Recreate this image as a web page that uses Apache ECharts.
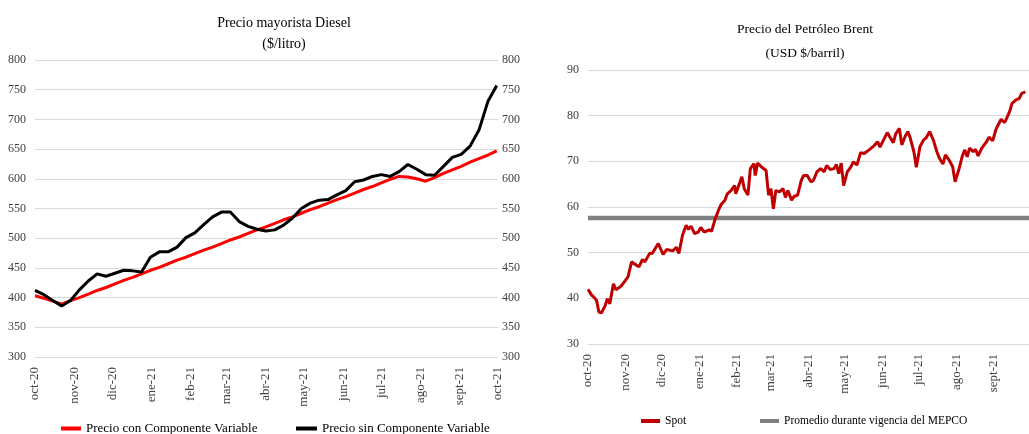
<!DOCTYPE html>
<html>
<head>
<meta charset="utf-8">
<script src="https://cdn.jsdelivr.net/npm/echarts@6/dist/echarts.min.js"></script>
<style>
  html, body { margin: 0; padding: 0; background: #fff; }
  #chart { width: 1029px; height: 434px; }
</style>
</head>
<body>
<div id="chart"></div>
<script>
// meses en español para las etiquetas del eje x
const meses = ['ene', 'feb', 'mar', 'abr', 'may', 'jun', 'jul', 'ago', 'sept', 'oct', 'nov', 'dic']

// fechas semanales (jueves) del precio mayorista, desde 2020-10-01
const inicioDiesel = '2020-10-01'
const semanasDiesel = 53

// Precio mayorista Diesel ($/litro)
const precioCon = [403, 399, 394, 389, 395, 400, 406, 412, 417, 423, 429, 434, 440, 446, 451, 457, 463, 468, 474, 480,
  485, 491, 497, 502, 508, 514, 519, 525, 531, 536, 542, 548, 553, 559, 565, 570, 576, 582, 587, 593,
  599, 604, 603, 600, 596, 602, 609, 615, 621, 628, 634, 640, 647]
const precioSin = [412, 405, 395, 386, 395, 413, 428, 440, 436, 441, 446, 445, 443, 468, 477, 477, 485, 501, 509, 523,
  536, 544, 544, 528, 520, 515, 512, 514, 522, 534, 550, 559, 564, 565, 573, 580, 595, 598, 604, 607,
  604, 612, 624, 616, 607, 606, 621, 636, 641, 655, 682, 730, 757]

// Brent spot (USD $/barril)
const brentFechas = ['2020-10-01', '2020-10-02', '2020-10-04', '2020-10-06', '2020-10-08', '2020-10-10', '2020-10-12',
  '2020-10-15', '2020-10-17', '2020-10-19', '2020-10-22', '2020-10-24', '2020-10-28', '2020-10-31', '2020-11-03',
  '2020-11-06', '2020-11-08', '2020-11-12', '2020-11-15', '2020-11-17', '2020-11-21', '2020-11-23', '2020-11-28',
  '2020-12-02', '2020-12-05', '2020-12-10', '2020-12-13', '2020-12-15', '2020-12-18', '2020-12-21', '2020-12-23',
  '2020-12-25', '2020-12-28', '2020-12-31', '2021-01-02', '2021-01-05', '2021-01-09', '2021-01-11', '2021-01-14',
  '2021-01-17', '2021-01-19', '2021-01-22', '2021-01-24', '2021-01-27', '2021-01-30', '2021-01-31', '2021-02-02',
  '2021-02-05', '2021-02-07', '2021-02-10', '2021-02-12', '2021-02-15', '2021-02-16', '2021-02-18', '2021-02-21',
  '2021-02-25', '2021-02-27', '2021-03-01', '2021-03-03', '2021-03-05', '2021-03-08', '2021-03-11', '2021-03-13',
  '2021-03-15', '2021-03-18', '2021-03-20', '2021-03-23', '2021-03-26', '2021-03-28', '2021-03-31', '2021-04-03',
  '2021-04-05', '2021-04-08', '2021-04-11', '2021-04-14', '2021-04-16', '2021-04-19', '2021-04-22', '2021-04-24',
  '2021-04-26', '2021-04-28', '2021-04-30', '2021-05-03', '2021-05-06', '2021-05-08', '2021-05-11', '2021-05-14',
  '2021-05-17', '2021-05-21', '2021-05-25', '2021-05-28', '2021-05-30', '2021-06-02', '2021-06-05', '2021-06-07',
  '2021-06-10', '2021-06-12', '2021-06-15', '2021-06-17', '2021-06-20', '2021-06-22', '2021-06-24', '2021-06-27',
  '2021-06-29', '2021-07-02', '2021-07-05', '2021-07-07', '2021-07-10', '2021-07-13', '2021-07-16', '2021-07-18',
  '2021-07-21', '2021-07-23', '2021-07-26', '2021-07-29', '2021-07-31', '2021-08-03', '2021-08-06', '2021-08-08',
  '2021-08-10', '2021-08-12', '2021-08-15', '2021-08-17', '2021-08-19', '2021-08-22', '2021-08-26', '2021-08-28',
  '2021-08-31', '2021-09-03', '2021-09-07', '2021-09-10', '2021-09-14', '2021-09-16', '2021-09-19', '2021-09-22',
  '2021-09-24', '2021-09-27']
const brentSpot = [42.0, 41.9, 40.7, 40.2, 39.6, 37.0, 36.8,
  38.3, 39.9, 38.8, 43.2, 41.9, 42.6, 43.6, 44.7,
  48.0, 47.6, 46.9, 48.5, 48.0, 49.9, 49.8, 52.0,
  49.6, 50.7, 50.4, 51.2, 49.8, 53.8, 56.0, 55.1,
  55.8, 54.2, 54.5, 55.5, 54.5, 55.0, 54.7, 57.4,
  59.5, 60.6, 61.5, 62.9, 63.6, 64.7, 62.9, 64.4,
  66.6, 64.0, 62.6, 68.4, 69.5, 66.9, 69.6, 68.8,
  68.0, 62.6, 64.0, 59.6, 63.6, 63.3, 64.0, 62.1,
  63.6, 61.5, 62.3, 62.6, 65.8, 66.9, 66.9, 65.5,
  65.8, 67.7, 68.4, 67.7, 69.1, 68.2, 68.4, 69.3,
  67.3, 69.6, 64.7, 67.7, 68.8, 69.9, 69.2, 71.9,
  71.7, 72.5, 73.4, 74.3, 73.1, 74.7, 76.3, 75.4,
  74.1, 76.0, 77.2, 73.6, 75.6, 76.5, 75.1, 72.1,
  68.7, 73.2, 74.7, 75.1, 76.5, 74.7, 72.1, 70.7,
  69.4, 71.4, 70.3, 68.8, 65.5, 68.1, 71.2, 72.5,
  71.0, 72.9, 72.1, 72.6, 71.2, 72.9, 74.3, 75.3,
  74.5, 77.2, 79.2, 78.5, 80.9, 82.7, 83.4, 83.8,
  84.9, 85.2]
const promedioMepco = 57.6

const fuente = "'Liberation Serif', 'Times New Roman', serif"

function dias(desde, n) {
  const t0 = Date.parse(desde + 'T00:00:00Z')
  const out = []
  for (let i = 0; i < n; i++) out.push(new Date(t0 + i * 86400000).toISOString().slice(0, 10))
  return out
}

const diasDiesel = dias('2020-10-01', 366) // hasta oct-21
const diasBrent = dias('2020-10-01', 365) // hasta fin de sept-21
const dieselFechas = []
for (let i = 0; i < semanasDiesel; i++) dieselFechas.push(dias(inicioDiesel, 7 * i + 1)[7 * i])

const idxDiesel = new Map(diasDiesel.map((d, i) => [d, i]))
const idxBrent = new Map(diasBrent.map((d, i) => [d, i]))

function etiquetaMes(v) {
  return meses[parseInt(v.slice(5, 7), 10) - 1] + '-' + v.slice(2, 4)
}

function ejeX(gridIndex, data) {
  return {
    type: 'category',
    gridIndex: gridIndex,
    data: data,
    boundaryGap: false,
    axisLine: { show: false },
    axisTick: { show: false },
    axisLabel: {
      interval: (i, v) => v.slice(8) === '01',
      formatter: etiquetaMes,
      rotate: 90,
      margin: 10,
      color: '#404040',
      fontFamily: fuente,
      fontSize: 13
    },
    splitLine: { show: false }
  }
}

function ejeY(gridIndex, pos, min, max, step, grid) {
  return {
    type: 'value',
    gridIndex: gridIndex,
    position: pos,
    min: min,
    max: max,
    interval: step,
    axisLine: { show: false },
    axisTick: { show: false },
    axisLabel: { color: '#404040', fontFamily: fuente, fontSize: 12, margin: pos === 'right' ? 4 : 9 },
    splitLine: { show: grid, lineStyle: { color: '#d9d9d9', width: 1 } }
  }
}

function leyenda(nombre, left, top, w, size) {
  return {
    data: [nombre],
    left: left,
    top: top,
    icon: 'rect',
    itemWidth: w,
    itemHeight: 4,
    padding: 0,
    selectedMode: false,
    textStyle: { fontFamily: fuente, fontSize: size, color: '#000' }
  }
}

const chart = echarts.init(document.getElementById('chart'))

chart.setOption({
  animation: false,
  backgroundColor: '#fff',
  title: [
    {
      text: 'Precio mayorista Diesel\n($/litro)',
      left: 279,
      top: 8,
      textAlign: 'center',
      textStyle: { fontFamily: fuente, fontSize: 14, fontWeight: 'normal', color: '#000', lineHeight: 21 }
    },
    {
      text: 'Precio del Petróleo Brent\n(USD $/barril)',
      left: 800,
      top: 12,
      textAlign: 'center',
      textStyle: { fontFamily: fuente, fontSize: 13.5, fontWeight: 'normal', color: '#000', lineHeight: 24 }
    }
  ],
  legend: [
    leyenda('Precio con Componente Variable', 61, 422, 20, 13),
    leyenda('Precio sin Componente Variable', 296, 422, 21, 13),
    leyenda('Spot', 641, 415, 19, 11.5),
    leyenda('Promedio durante vigencia del MEPCO', 760, 415, 19, 11.5)
  ],
  grid: [
    { left: 35, top: 60, width: 463, height: 297 },
    { left: 588, top: 70, width: 446, height: 274 }
  ],
  xAxis: [ejeX(0, diasDiesel), ejeX(1, diasBrent)],
  yAxis: [
    ejeY(0, 'left', 300, 800, 50, true),
    ejeY(0, 'right', 300, 800, 50, false),
    ejeY(1, 'left', 30, 90, 10, true)
  ],
  series: [
    {
      name: 'Precio con Componente Variable',
      type: 'line',
      xAxisIndex: 0,
      yAxisIndex: 0,
      showSymbol: false,
      lineStyle: { color: '#ff0000', width: 3 },
      itemStyle: { color: '#ff0000' },
      data: dieselFechas.map((f, i) => [idxDiesel.get(f), precioCon[i]])
    },
    {
      name: 'Precio sin Componente Variable',
      type: 'line',
      xAxisIndex: 0,
      yAxisIndex: 0,
      showSymbol: false,
      lineStyle: { color: '#000000', width: 3 },
      itemStyle: { color: '#000000' },
      data: dieselFechas.map((f, i) => [idxDiesel.get(f), precioSin[i]])
    },
    {
      name: 'Promedio durante vigencia del MEPCO',
      type: 'line',
      xAxisIndex: 1,
      yAxisIndex: 2,
      showSymbol: false,
      lineStyle: { color: '#808080', width: 4.5 },
      itemStyle: { color: '#808080' },
      data: [[0, promedioMepco], [diasBrent.length - 1, promedioMepco]]
    },
    {
      name: 'Spot',
      type: 'line',
      xAxisIndex: 1,
      yAxisIndex: 2,
      showSymbol: false,
      lineStyle: { color: '#c00000', width: 3 },
      itemStyle: { color: '#c00000' },
      data: brentFechas.map((f, i) => [idxBrent.get(f), brentSpot[i]])
    }
  ]
})
</script>
</body>
</html>
